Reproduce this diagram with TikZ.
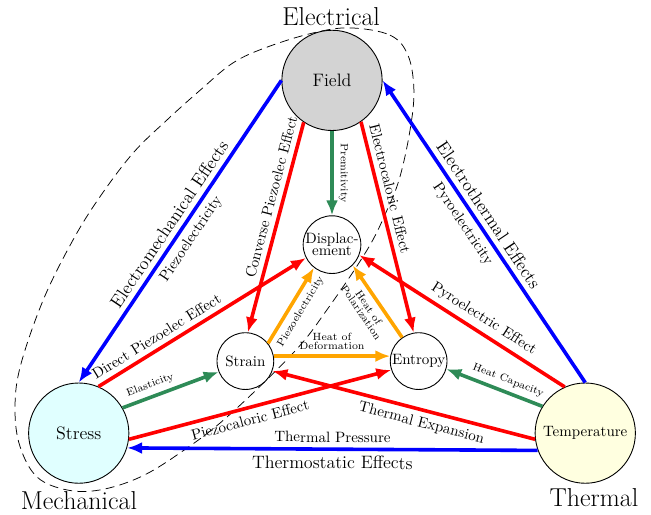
\documentclass[tikz,border=0pt]{standalone}
\usetikzlibrary{arrows.meta}
\definecolor{seagreen}{RGB}{46,139,87}
\definecolor{heatorange}{RGB}{255,165,0}
\definecolor{fieldgray}{RGB}{211,211,211}
\definecolor{stresscyan}{RGB}{224,255,255}
\definecolor{tempyellow}{RGB}{255,255,224}
\begin{document}
\begin{tikzpicture}[
    bignode/.style={circle, draw, line width=0.6pt, minimum size=2.35cm, inner sep=0pt},
    smallnode/.style={circle, draw, line width=0.6pt, fill=white, minimum size=1.33cm, inner sep=0pt},
    link/.style={line width=2.4pt, -{Latex[length=10pt,width=8pt]}},
    lbl/.style={midway, sloped, text=black},
    tag/.style={lbl, font=\scriptsize},
  ]
  \useasboundingbox (-7.782,-4.665) rectangle (7.477,7.384);
  % region of the electromechanical coupling
  \draw[line width=0.5pt, dash pattern=on 6pt off 3.5pt] plot[smooth cycle, tension=0.6] coordinates {
    (0.42,6.73) (1.36,6.56) (1.78,6.09) (1.92,5.27) (1.83,4.34) (1.59,3.23)
    (1.29,2.46) (0.82,1.52) (-0.12,0.12) (-0.91,-0.89) (-2.46,-2.39)
    (-3.56,-3.23) (-4.50,-3.80) (-5.44,-4.10) (-6.21,-4.10) (-6.91,-3.80)
    (-7.31,-3.09) (-7.43,-2.23) (-7.31,-1.22) (-6.77,0.35) (-6.07,1.76)
    (-5.44,2.77) (-4.66,3.80) (-3.87,4.57) (-3.09,5.27) (-2.32,5.91)
    (-1.52,6.28) (-0.45,6.61)};
  \draw
    (90:5.5) node[bignode, fill=fieldgray, font=\large] (field){Field}
    (205:6.55) node[bignode, fill=stresscyan, font=\large] (stress){Stress}
    (335:6.55) node[bignode, fill=tempyellow] (temp){Temperature}
    (90:1.65) node[smallnode, align=center] (disp){Displac-\\[-4pt]ement}
    (208:2.3) node[smallnode] (strain){Strain}
    (332:2.3) node[smallnode] (entropy){Entropy};
  \node[font=\LARGE] (electrical) at (-0.02,7.0) {Electrical};
  \node[font=\LARGE] (mechanical) at (-5.93,-4.36) {Mechanical};
  \node[font=\LARGE] (thermal) at (6.14,-4.27) {Thermal};
  \begin{scope}[link]
    % outer couplings
    \draw[blue] (field.west) to
      node[lbl, above, font=\large]{Electromechanical Effects}
      node[lbl, below]{Piezoelectricity} (stress.north);
    \draw[blue] (temp.north) to
      node[lbl, pos=0.53, above, font=\large]{Electrothermal Effects}
      node[lbl, pos=0.55, below]{Pyroelectricity} (field.east);
    \draw[blue] (temp.200) to
      node[lbl, above]{Thermal Pressure}
      node[lbl, below, font=\large]{Thermostatic Effects} (stress.-17);
    % cross effects
    \draw[red] (field.236) to node[lbl, pos=0.37, above]{Converse Piezoelec Effect} (strain.85);
    \draw[red] (field.-55) to node[lbl, pos=0.33, above]{Electrocaloric Effect} (entropy.100);
    \draw[red] (stress.67) to node[lbl, pos=0.31, above]{Direct Piezoelec Effect} (disp.207);
    \draw[red] (temp.114) to node[lbl, pos=0.43, above]{Pyroelectric Effect} (disp.-21);
    \draw[red] (stress.-7) to node[lbl, pos=0.45, below]{Piezocaloric Effect} (entropy.198);
    \draw[red] (temp.187) to node[lbl, pos=0.42, below]{Thermal Expansion} (strain.-20);
    % direct effects
    \draw[seagreen] (field.south) to node[tag, above]{Premitivity} (disp.north);
    \draw[seagreen] (stress.30) to node[tag, pos=0.33, above]{Elasticity} (strain.202);
    \draw[seagreen] (temp.148) to node[tag, pos=0.4, above]{Heat Capacity} (entropy.-16);
    % inner couplings
    \draw[heatorange] (strain.38) to node[tag, below]{Piezoelectricity} (disp.232);
    \draw[heatorange] (entropy.125) to node[tag, below, align=center]{Heat of\\[-2pt]Polarization} (disp.-45);
    \draw[heatorange] (strain.10) to node[tag, above, align=center]{Heat of\\[-2pt]Deformation} (entropy.170);
  \end{scope}
\end{tikzpicture}
\end{document}
